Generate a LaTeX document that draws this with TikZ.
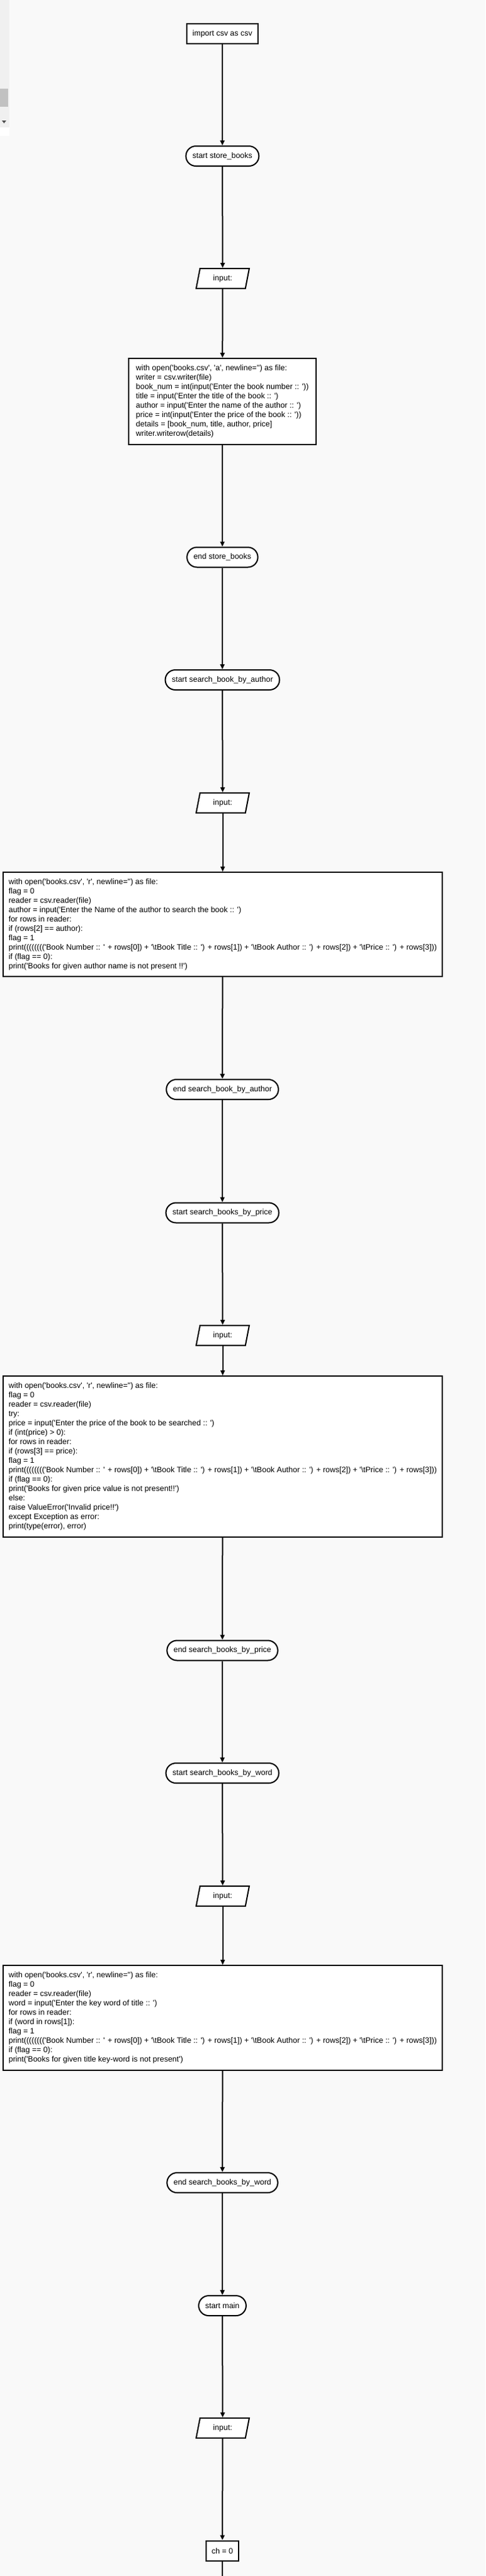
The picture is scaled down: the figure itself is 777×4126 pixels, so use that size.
\documentclass[tikz,border=0pt]{standalone}
\usepackage{fontspec}
\newfontfamily\flowfont{Liberation Sans}
\usepackage{xcolor}
\usetikzlibrary{arrows.meta}
\usetikzlibrary{shapes.geometric}

\definecolor{bgcol}{RGB}{249,249,249}
\definecolor{stripcol}{RGB}{240,240,240}
\definecolor{thumbcol}{RGB}{193,193,193}
\definecolor{tipcol}{RGB}{80,80,80}

\tikzset{
  base/.style={draw=black, line width=2pt, fill=white, font=\flowfont\fontsize{12.5}{15}\selectfont},
  proc/.style={base, rectangle, inner xsep=9pt, inner ysep=0pt, minimum height=32pt},
  term/.style={base, rectangle, rounded corners=16pt, inner xsep=10.5pt, inner ysep=0pt, minimum height=32pt},
  io/.style={base, trapezium, trapezium left angle=62, trapezium right angle=118,
    trapezium stretches body=true, inner sep=0pt, minimum width=85pt, minimum height=32pt},
  code/.style={base, rectangle, align=left, inner xsep=8pt, inner ysep=0pt, minimum width=703pt},
  link/.style={line width=2pt, -{Triangle[length=8pt,width=7pt]}}
}

\begin{document}
\begin{tikzpicture}[x=1pt,y=-1pt]
\fill[bgcol] (0,0) rectangle (777,4126);
\useasboundingbox (0,0) rectangle (777,4126);

% scroll bar left over at the edge
\fill[stripcol] (0,0) rectangle (15,204);
\fill[thumbcol] (0,142) rectangle (13,171);
\fill[tipcol] (3,193) -- (10,193) -- (6.5,197.5) -- cycle;
\fill[white] (0,204) rectangle (15,218);

\node[proc] (imp) at (356,54) {import csv as csv};

% store_books
\node[term] (sstore) at (356,250) {start store\_books};
\node[io] (in1) at (356.5,446) {input:};
\node[code, minimum width=300pt] (c1) at (356,643) [minimum height=138pt] {with open('books.csv', 'a', newline='') as file:\\
writer = csv.writer(file)\\
book\_num = int(input('Enter the book number :: '))\\
title = input('Enter the title of the book :: ')\\
author = input('Enter the name of the author :: ')\\
price = int(input('Enter the price of the book :: '))\\
details = [book\_num, title, author, price]\\
writer.writerow(details)};
\node[term] (estore) at (356,892.5) {end store\_books};

% search_book_by_author
\node[term] (sauth) at (356,1089) {start search\_book\_by\_author};
\node[io] (in2) at (356.5,1286) {input:};
\node[code] (c2) at (356.5,1480.5) [minimum height=167pt] {with open('books.csv', 'r', newline='') as file:\\
flag = 0\\
reader = csv.reader(file)\\
author = input('Enter the Name of the author to search the book :: ')\\
for rows in reader:\\
if (rows[2] == author):\\
flag = 1\\
print(((((((('Book Number :: ' + rows[0]) + '\textbackslash tBook Title :: ') + rows[1]) + '\textbackslash tBook Author :: ') + rows[2]) + '\textbackslash tPrice :: ') + rows[3]))\\
if (flag == 0):\\
print('Books for given author name is not present !!')};
\node[term] (eauth) at (356,1745) {end search\_book\_by\_author};

% search_books_by_price
\node[term] (sprice) at (356,1942.5) {start search\_books\_by\_price};
\node[io] (in3) at (356.5,2139) {input:};
\node[code] (c3) at (356.5,2333) [minimum height=258pt] {with open('books.csv', 'r', newline='') as file:\\
flag = 0\\
reader = csv.reader(file)\\
try:\\
price = input('Enter the price of the book to be searched :: ')\\
if (int(price) > 0):\\
for rows in reader:\\
if (rows[3] == price):\\
flag = 1\\
print(((((((('Book Number :: ' + rows[0]) + '\textbackslash tBook Title :: ') + rows[1]) + '\textbackslash tBook Author :: ') + rows[2]) + '\textbackslash tPrice :: ') + rows[3]))\\
if (flag == 0):\\
print('Books for given price value is not present!!')\\
else:\\
raise ValueError('Invalid price!!')\\
except Exception as error:\\
print(type(error), error)};
\node[term] (eprice) at (356,2643.5) {end search\_books\_by\_price};

% search_books_by_word
\node[term] (sword) at (356,2840) {start search\_books\_by\_word};
\node[io] (in4) at (356.5,3037) {input:};
\node[code] (c4) at (356.5,3232) [minimum height=168pt] {with open('books.csv', 'r', newline='') as file:\\
flag = 0\\
reader = csv.reader(file)\\
word = input('Enter the key word of title :: ')\\
for rows in reader:\\
if (word in rows[1]):\\
flag = 1\\
print(((((((('Book Number :: ' + rows[0]) + '\textbackslash tBook Title :: ') + rows[1]) + '\textbackslash tBook Author :: ') + rows[2]) + '\textbackslash tPrice :: ') + rows[3]))\\
if (flag == 0):\\
print('Books for given title key-word is not present')};
\node[term] (eword) at (356,3496) {end search\_books\_by\_word};

% main
\node[term] (smain) at (356,3693) {start main};
\node[io] (in5) at (356.5,3889) {input:};
\node[proc] (ch) at (356,4085.5) {ch = 0};
\coordinate (tail) at (356,4130);

\draw[link] (imp) -- (sstore);
\draw[link] (sstore) -- (in1);
\draw[link] (in1) -- (c1);
\draw[link] (c1) -- (estore);
\draw[link] (estore) -- (sauth);
\draw[link] (sauth) -- (in2);
\draw[link] (in2) -- (c2);
\draw[link] (c2) -- (eauth);
\draw[link] (eauth) -- (sprice);
\draw[link] (sprice) -- (in3);
\draw[link] (in3) -- (c3);
\draw[link] (c3) -- (eprice);
\draw[link] (eprice) -- (sword);
\draw[link] (sword) -- (in4);
\draw[link] (in4) -- (c4);
\draw[link] (c4) -- (eword);
\draw[link] (eword) -- (smain);
\draw[link] (smain) -- (in5);
\draw[link] (in5) -- (ch);
\draw[line width=2pt] (ch) -- (tail);
\end{tikzpicture}
\end{document}
